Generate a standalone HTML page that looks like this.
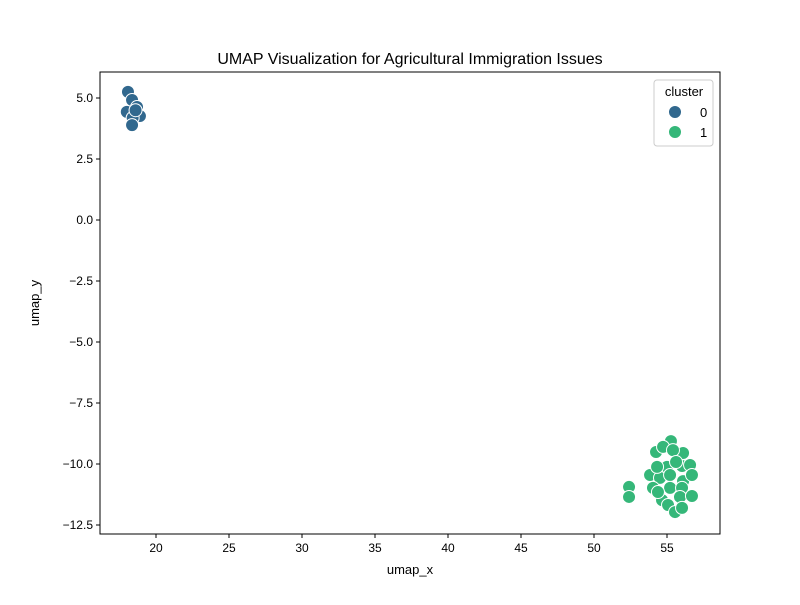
<!DOCTYPE html>
<html><head><meta charset="utf-8"><style>
body{margin:0;background:#fff;font-family:"Liberation Sans",sans-serif;}
svg text{font-family:"Liberation Sans","DejaVu Sans",sans-serif;fill:#000;}
</style></head><body>
<svg id="chart" width="800" height="600">
<rect width="800" height="600" fill="#fff"/>
<g id="plot"></g>
</svg>
<script>
const c0x=[18.08,18.36,18.7,18.0,18.9,18.4,18.6,18.36];
const c0y=[5.25,4.92,4.63,4.43,4.26,4.18,4.5,3.89];
const c1x=[55.27,54.25,56.10,54.73,55.41,55.0,56.03,56.58,53.84,54.52,55.21,56.10,56.71,54.04,55.21,56.03,54.66,55.89,56.71,55.07,55.55,56.03,54.38,55.62,54.32,52.40,52.40];
const c1y=[-9.06,-9.51,-9.55,-9.30,-9.43,-10.12,-10.08,-10.04,-10.45,-10.57,-10.45,-10.70,-10.45,-10.98,-10.98,-10.98,-11.48,-11.35,-11.31,-11.68,-11.97,-11.80,-11.15,-9.92,-10.12,-10.94,-11.35];
const xTicks=[20,25,30,35,40,45,50,55];
const yTicks=[5.0,2.5,0.0,-2.5,-5.0,-7.5,-10.0,-12.5];
const yLabels=["5.0","2.5","0.0","\u22122.5","\u22125.0","\u22127.5","\u221210.0","\u221212.5"];
const L=100,R=720,T=72,B=534;
const sx=v=>156+(v-20)*14.6;
const sy=v=>220-v*24.4;
const NS="http://www.w3.org/2000/svg";
const g=document.getElementById('plot');
function mk(t,a,txt){const e=document.createElementNS(NS,t);for(const k in a)e.setAttribute(k,a[k]);if(txt!==undefined)e.textContent=txt;g.appendChild(e);return e;}
function pts(xs,ys,col,name){xs.forEach((x,i)=>{const e=mk('circle',{cx:sx(x),cy:sy(ys[i]),r:6.5,fill:col,stroke:'#fff','stroke-width':1});

});}
pts(c0x,c0y,'#31688e','point-cluster-0');
pts(c1x,c1y,'#35b779','point-cluster-1');
const fr=mk('rect',{x:L,y:T,width:R-L,height:B-T,fill:'none',stroke:'#000','stroke-width':1});


xTicks.forEach(v=>{const x=sx(v);mk('line',{x1:x,x2:x,y1:B,y2:B+4,stroke:'#000'});
const t=mk('text',{x:x,y:B+18,'text-anchor':'middle','font-size':12},String(v));

});
yTicks.forEach((v,i)=>{const y=sy(v);mk('line',{x1:L-4,x2:L,y1:y,y2:y,stroke:'#000'});
const t=mk('text',{x:L-7,y:y+4,'text-anchor':'end','font-size':12},yLabels[i]);

});
let t=mk('text',{x:410,y:64,'text-anchor':'middle','font-size':16},'UMAP Visualization for Agricultural Immigration Issues');

t=mk('text',{x:410,y:574,'text-anchor':'middle','font-size':13},'umap_x');

t=mk('text',{x:39,y:303,'text-anchor':'middle','font-size':13,transform:'rotate(-90 39 303)'},'umap_y');

const lg=mk('rect',{x:654,y:80,width:59,height:66,rx:3,fill:'#fff','fill-opacity':0.8,stroke:'#ccc'});

t=mk('text',{x:684,y:96,'text-anchor':'middle','font-size':13},'cluster');

[['0','#31688e',112],['1','#35b779',132]].forEach(([l,c,y])=>{
const m=mk('circle',{cx:675,cy:y,r:6.5,fill:c,stroke:'#fff'});

const e=mk('text',{x:700,y:y+5,'font-size':13},l);
});
</script>
</body></html>
